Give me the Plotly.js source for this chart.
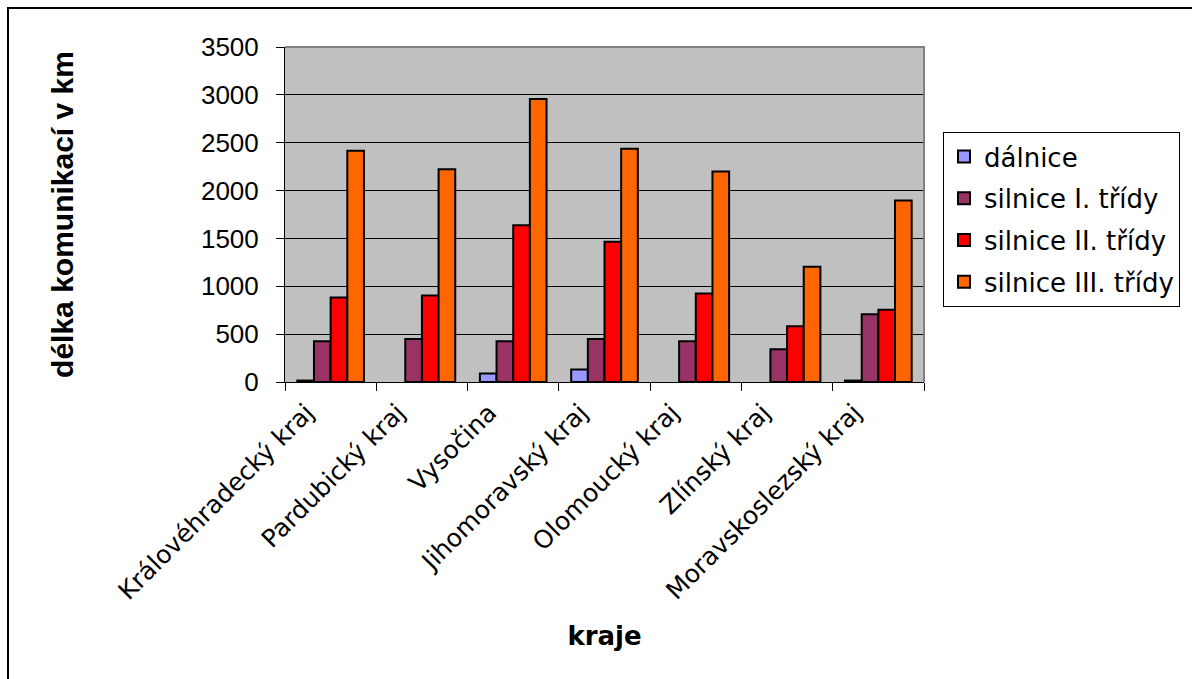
<!DOCTYPE html>
<html>
<head>
<meta charset="utf-8">
<script src="https://cdn.plot.ly/plotly-3.0.1.min.js"></script>
<style>
  html, body { margin: 0; padding: 0; background: #fff; }
  #chart { width: 1192px; height: 679px; }
</style>
</head>
<body>
<div id="chart"></div>
<script>
// Road network length by region (km)
const kraje = [
  'Královéhradecký kraj',
  'Pardubický kraj',
  'Vysočina',
  'Jihomoravský kraj',
  'Olomoucký kraj',
  'Zlínský kraj',
  'Moravskoslezský kraj'
];
const dalnice = [15, 0, 90, 130, 0, 0, 15];
const silniceI = [426, 450, 426, 450, 426, 342, 709];
const silniceII = [883, 904, 1637, 1466, 925, 583, 754];
const silniceIII = [2415, 2223, 2956, 2436, 2199, 1204, 1895];

const seriesNames = ['dálnice', 'silnice I. třídy', 'silnice II. třídy', 'silnice III. třídy'];
const seriesValues = [dalnice, silniceI, silniceII, silniceIII];
const seriesColors = ['#9999FF', '#993366', '#FF0000', '#FF6600'];

// zero-length segments are left empty so no outline is drawn for them
const traces = seriesValues.map((vals, i) => ({
  type: 'bar',
  name: seriesNames[i],
  x: kraje,
  y: vals.map(v => (v === 0 ? null : v)),
  legendgroup: 'g' + i,
  marker: { color: seriesColors[i], line: { color: '#000', width: 2 } },
  hoverinfo: 'x+y+name'
}));

const W = 1192, H = 679;
const L = 285, R = 268, T = 47, B = 297;
const pw = W - L - R, ph = H - T - B;
const px = v => (v - L) / pw;          // pixel x -> paper x
const py = v => (H - B - v) / ph;      // pixel y -> paper y

const layout = {
  width: W,
  height: H,
  margin: { l: L, r: R, t: T, b: B, pad: 0 },
  paper_bgcolor: '#fff',
  plot_bgcolor: '#C0C0C0',
  barmode: 'group',
  bargap: 0.27,
  bargroupgap: 0,
  font: { family: '"DejaVu Sans", Verdana, sans-serif', color: '#000' },
  xaxis: {
    type: 'category',
    tickangle: -45,
    tickson: 'boundaries',
    ticks: 'outside',
    ticklen: 8,
    tickcolor: '#000',
    ticklabelshift: -24,
    ticklabelstandoff: 5,
    tickfont: { family: '"DejaVu Sans", Verdana, sans-serif', size: 25, color: '#000' },
    showline: true,
    linecolor: '#000',
    linewidth: 1,
    showgrid: false,
    zeroline: false,
    automargin: false,
    title: {
      text: 'kraje',
      font: { family: '"DejaVu Sans", Verdana, sans-serif', size: 26, color: '#000', weight: 'bold' },
      standoff: 22
    }
  },
  yaxis: {
    range: [0, 3500],
    dtick: 500,
    tick0: 0,
    ticks: 'outside',
    ticklen: 8,
    tickcolor: '#000',
    ticklabelstandoff: 12,
    tickfont: { family: '"Liberation Sans", Arial, sans-serif', size: 26, color: '#000' },
    showline: true,
    linecolor: '#000',
    linewidth: 1,
    showgrid: true,
    gridcolor: '#000',
    gridwidth: 1,
    zeroline: false,
    automargin: false,
    title: {
      text: 'délka komunikací v km',
      font: { family: '"Liberation Sans", Arial, sans-serif', size: 30, color: '#000', weight: 'bold' },
      standoff: 118
    }
  },
  legend: {
    x: px(943),
    y: py(132),
    xanchor: 'left',
    yanchor: 'top',
    bgcolor: '#fff',
    bordercolor: '#000',
    borderwidth: 1,
    tracegroupgap: 5,
    font: { family: '"DejaVu Sans", Verdana, sans-serif', size: 26, color: '#000' }
  },
  shapes: [
    // plot area frame on top and right
    {
      type: 'path', xref: 'paper', yref: 'paper',
      path: 'M 0 1 L 1 1 L 1 0',
      line: { color: '#808080', width: 2 }
    },
    // chart frame
    {
      type: 'path', xref: 'paper', yref: 'paper',
      path: `M ${px(8)} ${py(H)} L ${px(8)} ${py(8)} L ${px(W)} ${py(8)}`,
      line: { color: '#000', width: 2 }
    }
  ]
};

Plotly.newPlot('chart', traces, layout, { displayModeBar: false, staticPlot: true });
</script>
</body>
</html>
